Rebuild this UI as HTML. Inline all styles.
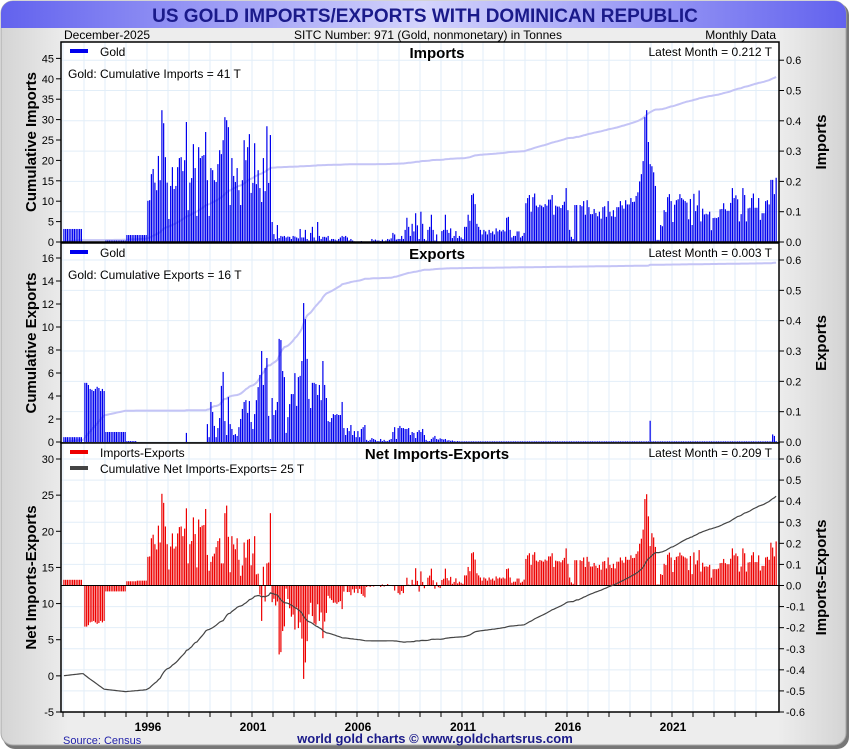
<!DOCTYPE html>
<html><head><meta charset="utf-8"><style>
html,body{margin:0;padding:0;background:#fff;}
svg{display:block;font-family:"Liberation Sans",sans-serif;}
</style></head><body>
<svg id="chart" width="850" height="750" viewBox="0 0 850 750" xmlns="http://www.w3.org/2000/svg">
<defs>
<linearGradient id="bgG" x1="0" x2="1" y1="0" y2="0"><stop offset="0" stop-color="#d4d4d4"/><stop offset="0.08" stop-color="#ededed"/><stop offset="0.92" stop-color="#ededed"/><stop offset="1" stop-color="#d4d4d4"/></linearGradient>
<linearGradient id="titleG" x1="0" x2="1" y1="0" y2="0"><stop offset="0" stop-color="#6262ee"/><stop offset="0.5" stop-color="#d4d4fc"/><stop offset="1" stop-color="#6262ee"/></linearGradient>
</defs>
<rect x="3" y="3" width="846" height="746" rx="12" fill="#777"/>
<rect x="1" y="1" width="845" height="744" rx="12" fill="url(#bgG)" stroke="#aaa"/>
<path d="M1,28 V13 A12,12 0 0 1 13,1 H834 A12,12 0 0 1 846,13 V28 Z" fill="url(#titleG)"/>
<text x="425" y="22" text-anchor="middle" font-size="19" font-weight="bold" fill="#1a1a8a">US GOLD IMPORTS/EXPORTS WITH DOMINICAN REPUBLIC</text>
<text x="64" y="39" font-size="12" fill="#000">December-2025</text>
<text x="428" y="39" text-anchor="middle" font-size="12" fill="#000">SITC Number: 971 (Gold, nonmonetary) in Tonnes</text>
<text x="776" y="39" text-anchor="end" font-size="12" fill="#000">Monthly Data</text>
<text x="63" y="744" font-size="11" fill="#2222aa">Source: Census</text>
<text x="435" y="743" text-anchor="middle" font-size="13" font-weight="bold" fill="#1a1a8a">world gold charts © www.goldchartsrus.com</text>
<g id="layer"></g>
</svg>
<script>
const years = [1992,1993,1994,1995,1996,1997,1998,1999,2000,2001,2002,2003,2004,2005,2006,2007,2008,2009,2010,2011,2012,2013,2014,2015,2016,2017,2018,2019,2020,2021,2022,2023,2024,2025];
const yearTickLabels = ["1996","2001","2006","2011","2016","2021"];
const imports = [].concat(
[0.043,0.043,0.043,0.043,0.043,0.043,0.043,0.043,0.043,0.043,0.043,0],
[0,0,0,0,0,0,0,0,0,0,0,0],
[0.005,0.005,0.005,0.005,0.005,0.005,0.005,0.005,0.005,0.005,0.005,0.005],
[0.023,0.023,0.023,0.023,0.023,0.023,0.023,0.023,0.023,0.023,0.023,0.023],
[0.136,0.138,0.224,0.241,0.196,0.171,0.284,0.204,0.435,0.392,0.280,0.196],
[0.076,0.185,0.247,0.175,0.185,0.247,0.277,0.280,0.234,0.270,0.396,0.105],
[0.196,0.211,0.323,0.244,0.086,0.313,0.277,0.284,0.287,0.363,0.204,0.086],
[0.244,0.237,0.204,0.198,0.257,0.303,0.290,0.336,0.412,0.402,0.379,0.122],
[0.277,0.218,0.198,0.244,0.171,0.122,0.204,0.336,0.270,0.313,0.356,0.162],
[0.195,0.326,0.191,0.237,0.178,0.132,0.277,0.168,0.382,0.195,0.353,0.066],
[0.026,0.01,0.056,0.013,0.02,0.018,0.02,0.015,0.018,0.017,0.01,0.02],
[0.018,0.015,0.012,0.043,0.015,0.015,0.04,0.01,0.005,0.03,0.05,0.015],
[0.005,0.066,0.02,0.01,0.017,0.017,0.015,0.02,0.005,0.01,0.01,0.008],
[0.005,0.01,0.015,0.02,0.017,0.02,0.015,0.005,0.01,0.005,0.002,0],
[0,0,0.003,0,0,0,0,0,0.01,0.005,0.008,0.005],
[0.005,0.003,0.008,0.002,0.005,0.01,0.008,0.012,0.03,0.025,0.008,0.01],
[0.01,0.02,0.01,0.04,0.08,0.05,0.02,0.06,0.035,0.095,0.055,0.01],
[0.1,0.06,0.01,0.005,0.04,0.05,0.09,0.04,0.005,0.025,0,0],
[0.036,0.04,0.09,0.04,0.03,0.045,0.013,0.02,0.036,0.013,0.02,0.015],
[0.01,0.05,0.05,0.09,0.07,0.155,0.16,0.125,0.06,0.05,0.04,0.025],
[0.04,0.035,0.025,0.04,0.03,0.035,0.025,0.045,0.035,0.04,0.035,0.04],
[0.035,0.08,0.083,0.04,0.015,0.02,0.02,0.035,0.035,0.015,0.02,0.03],
[0.128,0.145,0.155,0.1,0.148,0.16,0.12,0.115,0.123,0.12,0.115,0.125],
[0.12,0.14,0.14,0.155,0.09,0.12,0.117,0.117,0.112,0.122,0.133,0.178],
[0.105,0.04,0.017,0.01,0.122,0.122,0.0,0.122,0.118,0.135,0.09,0.138],
[0.115,0.092,0.092,0.109,0.096,0.085,0.1,0.077,0.115,0.118,0.083,0.135],
[0.1,0.085,0.105,0.083,0.115,0.115,0.135,0.121,0.11,0.138,0.124,0.124],
[0.145,0.132,0.133,0.152,0.164,0.2,0.224,0.267,0.412,0.435,0.33,0.257],
[0.25,0.23,0.185,0.007,0.007,0.056,0.052,0.105,0.099,0.148,0.158,0.135],
[0.066,0.123,0.138,0.141,0.158,0.145,0.14,0.135,0.13,0.075,0.142,0.056],
[0.159,0.102,0.121,0.17,0.068,0.11,0.091,0.093,0.091,0.1,0.039,0.079],
[0.08,0.079,0.082,0.108,0.109,0.128,0.108,0.103,0.103,0.129,0.178,0.145],
[0.154,0.141,0.068,0.092,0.178,0.155,0.068,0.111,0.113,0.145,0.16,0.113],
[0.113,0.145,0.073,0.095,0.095,0.135,0.138,0.124,0.205,0.205,0.158,0.212]
);
const exports = [].concat(
[0.016,0.016,0.016,0.016,0.016,0.016,0.016,0.016,0.016,0.016,0.016,0],
[0.195,0.195,0.188,0.175,0.172,0.168,0.175,0.182,0.178,0.168,0.175,0.168],
[0.033,0.033,0.033,0.033,0.033,0.033,0.033,0.033,0.033,0.033,0.033,0.033],
[0.003,0.003,0.003,0.003,0.003,0.003,0,0,0,0,0,0],
[0,0,0,0,0,0,0,0,0,0,0,0],
[0,0,0,0,0,0,0,0,0,0,0.03,0],
[0,0,0,0,0,0,0,0,0,0,0.059,0.016],
[0.132,0.099,0.053,0.016,0.046,0.079,0.185,0.231,0.069,0.023,0.148,0.059],
[0.043,0.023,0.026,0.02,0.049,0.076,0.109,0.132,0.138,0.096,0.135,0.066],
[0.043,0.092,0.138,0.181,0.221,0.3,0.188,0.244,0.277,0.086,0.01,0.145],
[0.089,0.105,0.132,0.34,0.336,0.234,0.214,0.03,0.082,0.125,0.158,0.158],
[0.227,0.119,0.214,0.218,0.267,0.458,0.405,0.274,0.142,0.112,0.195,0.195],
[0.191,0.155,0.188,0.138,0.267,0.188,0.145,0.069,0.066,0.079,0.092,0.089],
[0.092,0.089,0.089,0.132,0.046,0.023,0.046,0.036,0.056,0.023,0.036,0.016],
[0.036,0.016,0.043,0.049,0.056,0.007,0.003,0.007,0.013,0.01,0.007,0.003],
[0.003,0.01,0.003,0.007,0.003,0.003,0.007,0.01,0.033,0.049,0.01,0.046],
[0.053,0.046,0.046,0.043,0.043,0.046,0.023,0.033,0.03,0.013,0.033,0.039],
[0.033,0.043,0.023,0.007,0.003,0.003,0.01,0.015,0.02,0.01,0.008,0.012],
[0.01,0.008,0.01,0.005,0.006,0.004,0.005,0.003,0.002,0.003,0.002,0.002],
[0.002,0.002,0.002,0.002,0.002,0.002,0.002,0.002,0.002,0.002,0.002,0.002],
[0.002,0.002,0.002,0.002,0.002,0.002,0.002,0.002,0.002,0.002,0.002,0.002],
[0.002,0.002,0.002,0.002,0.002,0.002,0.002,0.002,0.002,0.002,0.002,0.002],
[0.002,0.002,0.002,0.002,0.002,0.002,0.002,0.002,0.002,0.002,0.002,0.002],
[0.002,0.002,0.002,0.002,0.002,0.002,0.002,0.002,0.002,0.002,0.002,0.002],
[0.002,0.002,0.002,0.002,0.002,0.002,0.002,0.002,0.002,0.002,0.002,0.002],
[0.002,0.002,0.002,0.002,0.002,0.002,0.002,0.002,0.002,0.002,0.002,0.002],
[0.002,0.002,0.002,0.002,0.002,0.002,0.002,0.002,0.002,0.002,0.002,0.002],
[0.002,0.002,0.002,0.002,0.002,0.002,0.002,0.002,0.002,0.002,0.002,0.07],
[0.002,0.002,0.002,0.002,0.002,0.002,0.002,0.002,0.002,0.002,0.002,0.002],
[0.002,0.002,0.002,0.002,0.002,0.002,0.002,0.002,0.002,0.002,0.002,0.002],
[0.002,0.002,0.002,0.002,0.002,0.002,0.002,0.002,0.002,0.002,0.002,0.002],
[0.002,0.002,0.002,0.002,0.002,0.002,0.002,0.002,0.002,0.002,0.002,0.002],
[0.002,0.002,0.002,0.002,0.002,0.002,0.002,0.002,0.002,0.002,0.002,0.002],
[0.002,0.002,0.002,0.002,0.002,0.002,0.002,0.002,0.002,0.025,0.02,0.003]
);
const leftTicks1 = [0,5,10,15,20,25,30,35,40,45];
const leftTicks2 = [0,2,4,6,8,10,12,14,16];
const leftTicks3 = [-5,0,5,10,15,20,25,30];
const rightTicks12 = [0,0.1,0.2,0.3,0.4,0.5,0.6];
const rightTicks3 = [-0.6,-0.5,-0.4,-0.3,-0.2,-0.1,0,0.1,0.2,0.3,0.4,0.5,0.6];

const NS = "http://www.w3.org/2000/svg";
const layer = document.getElementById('layer');
function mk(tag, attrs, parent){const e=document.createElementNS(NS,tag);for(const k in attrs)e.setAttribute(k,attrs[k]);(parent||layer).appendChild(e);return e;}
const X0 = 61, X1 = 779, PX0 = 63, MW = 1.75;
function xOf(i){return PX0 + i*MW + 0.9;}
function xYear(y){return PX0 + (y-1992)*12*MW;}
function lin(d0,d1,p0,p1){return v=>p0+(v-d0)/(d1-d0)*(p1-p0);}

const net = imports.map((v,i)=>v-exports[i]);
function cum(a){let s=0;return a.map(v=>s+=v);}
const panels = [
 {name:'imports', top:42, bot:242, yl:lin(0,45,242,58.4), yr:lin(0,0.6,242,60.2), lt:leftTicks1, rt:rightTicks12, bars:imports, barColor:'#0000ee', cumv:cum(imports), lineColor:'#c4c4f6', lineW:2,
  ltitle:'Cumulative Imports', rtitle:'Imports', title:'Imports', leg1:'Gold', leg2:'Gold: Cumulative Imports = 41 T', latest:'Latest Month = 0.212 T', dec:1},
 {name:'exports', top:243, bot:443, yl:lin(0,16,442,258), yr:lin(0,0.6,442,260), lt:leftTicks2, rt:rightTicks12, bars:exports, barColor:'#0000ee', cumv:cum(exports), lineColor:'#c4c4f6', lineW:2,
  ltitle:'Cumulative Exports', rtitle:'Exports', title:'Exports', leg1:'Gold', leg2:'Gold: Cumulative Exports = 16 T', latest:'Latest Month = 0.003 T', dec:1},
 {name:'net', top:443, bot:712, yl:lin(-5,30,712,459), yr:lin(-0.6,0.6,712,459), lt:leftTicks3, rt:rightTicks3, bars:net, barColor:'#ee0000', cumv:cum(net), lineColor:'#444', lineW:1.2,
  ltitle:'Net Imports-Exports', rtitle:'Imports-Exports', title:'Net Imports-Exports', leg1:'Imports-Exports', leg2:'Cumulative Net Imports-Exports= 25 T', latest:'Latest Month = 0.209 T', dec:1}
];

panels.forEach((p,pi)=>{
  const g = mk('g',{});
  
  
  const bg = mk('rect',{x:X0,y:p.top,width:X1-X0,height:p.bot-p.top,fill:'#fff'},g);
  
  
  // grid
  for(let y=1992;y<=2025;y++){
    const gx = xYear(y);
    const gl = mk('line',{x1:gx,x2:gx,y1:p.top,y2:p.bot,stroke:'#e2eef8','stroke-width':1},g);
    
    
  }
  p.rt.forEach(t=>{
    const gy = p.yr(t);
    const gl = mk('line',{x1:X0,x2:X1,y1:gy,y2:gy,stroke:'#e2eef8','stroke-width':1},g);
    
    
  });
  // cumulative line (under bars for top panels)
  const pts = p.cumv.map((v,i)=>xOf(i).toFixed(1)+','+p.yl(v).toFixed(1)).join(' ');
  const drawLine=()=>{
    const pl = mk('polyline',{points:pts,fill:'none',stroke:p.lineColor,'stroke-width':p.lineW},g);
    
    
  };
  if(pi<2) drawLine();
  const z = p.yr(0);
  p.bars.forEach((v,i)=>{
    const yv = p.yr(v);
    const b = mk('rect',{x:(xOf(i)-0.6).toFixed(2),y:Math.min(yv,z).toFixed(2),width:1.2,height:Math.max(Math.abs(z-yv),0).toFixed(2),fill:p.barColor},g);
    
    
  });
  if(pi==2){
    const zl = mk('line',{x1:X0,x2:X1,y1:z,y2:z,stroke:'#000','stroke-width':1},g);
    
    
    drawLine();
  }
  const fr = mk('rect',{x:X0,y:p.top,width:X1-X0,height:p.bot-p.top,fill:'none',stroke:'#000','stroke-width':1.5},g);
  
  
  // ticks
  p.lt.forEach(t=>{
    const ty=p.yl(t);
    const tk = mk('line',{x1:X0-5,x2:X0,y1:ty,y2:ty,stroke:'#000'},g);
    
    
    const tl = mk('text',{x:X0-7,y:ty+4,'text-anchor':'end','font-size':11,fill:'#000'},g);
    tl.textContent = String(t);
    
    
  });
  p.rt.forEach(t=>{
    const ty=p.yr(t);
    const tk = mk('line',{x1:X1,x2:X1+5,y1:ty,y2:ty,stroke:'#000'},g);
    
    
    const tl = mk('text',{x:X1+7,y:ty+4,'font-size':11,fill:'#000'},g);
    tl.textContent = t.toFixed(1);
    
    
  });
  const mid=(p.top+p.bot)/2;
  const lt = mk('text',{x:0,y:0,'text-anchor':'middle','font-size':15,'font-weight':'bold',fill:'#000',transform:`translate(36,${mid}) rotate(-90)`},g);
  lt.textContent=p.ltitle;
  
  
  const rtt = mk('text',{x:0,y:0,'text-anchor':'middle','font-size':15,'font-weight':'bold',fill:'#000',transform:`translate(826,${mid}) rotate(-90)`},g);
  rtt.textContent=p.rtitle;
  
  
  const ti = mk('text',{x:437,y:p.top+16,'text-anchor':'middle','font-size':15,'font-weight':'bold',fill:'#000'},g);
  ti.textContent=p.title;
  
  
  const ls = mk('rect',{x:70,y:p.top+7,width:18,height:4,fill:p.barColor},g);
  
  
  const l1 = mk('text',{x:100,y:p.top+14,'font-size':12,fill:'#000'},g);
  l1.textContent=p.leg1;
  
  
  if(pi==2){
    const ls2 = mk('rect',{x:70,y:p.top+23,width:18,height:4,fill:'#444'},g);
    
    
  }
  const l2 = mk('text',{x:pi==2?100:68,y:p.top+(pi==2?30:36),'font-size':12,fill:'#000'},g);
  l2.textContent=p.leg2;
  
  
  const la = mk('text',{x:772,y:p.top+14,'text-anchor':'end','font-size':12,fill:'#000'},g);
  la.textContent=p.latest;
  
  
});
// x axis
for(let y=1992;y<=2025;y++){
  const gx=xYear(y);
  const tk = mk('line',{x1:gx,x2:gx,y1:712,y2:717,stroke:'#000'});
  
  
}
yearTickLabels.forEach(s=>{
  const tl = mk('text',{x:xYear(+s)+1,y:731,'text-anchor':'middle','font-size':12,'font-weight':'bold',fill:'#000'});
  tl.textContent=s;
  
  
});
</script>
</body></html>
